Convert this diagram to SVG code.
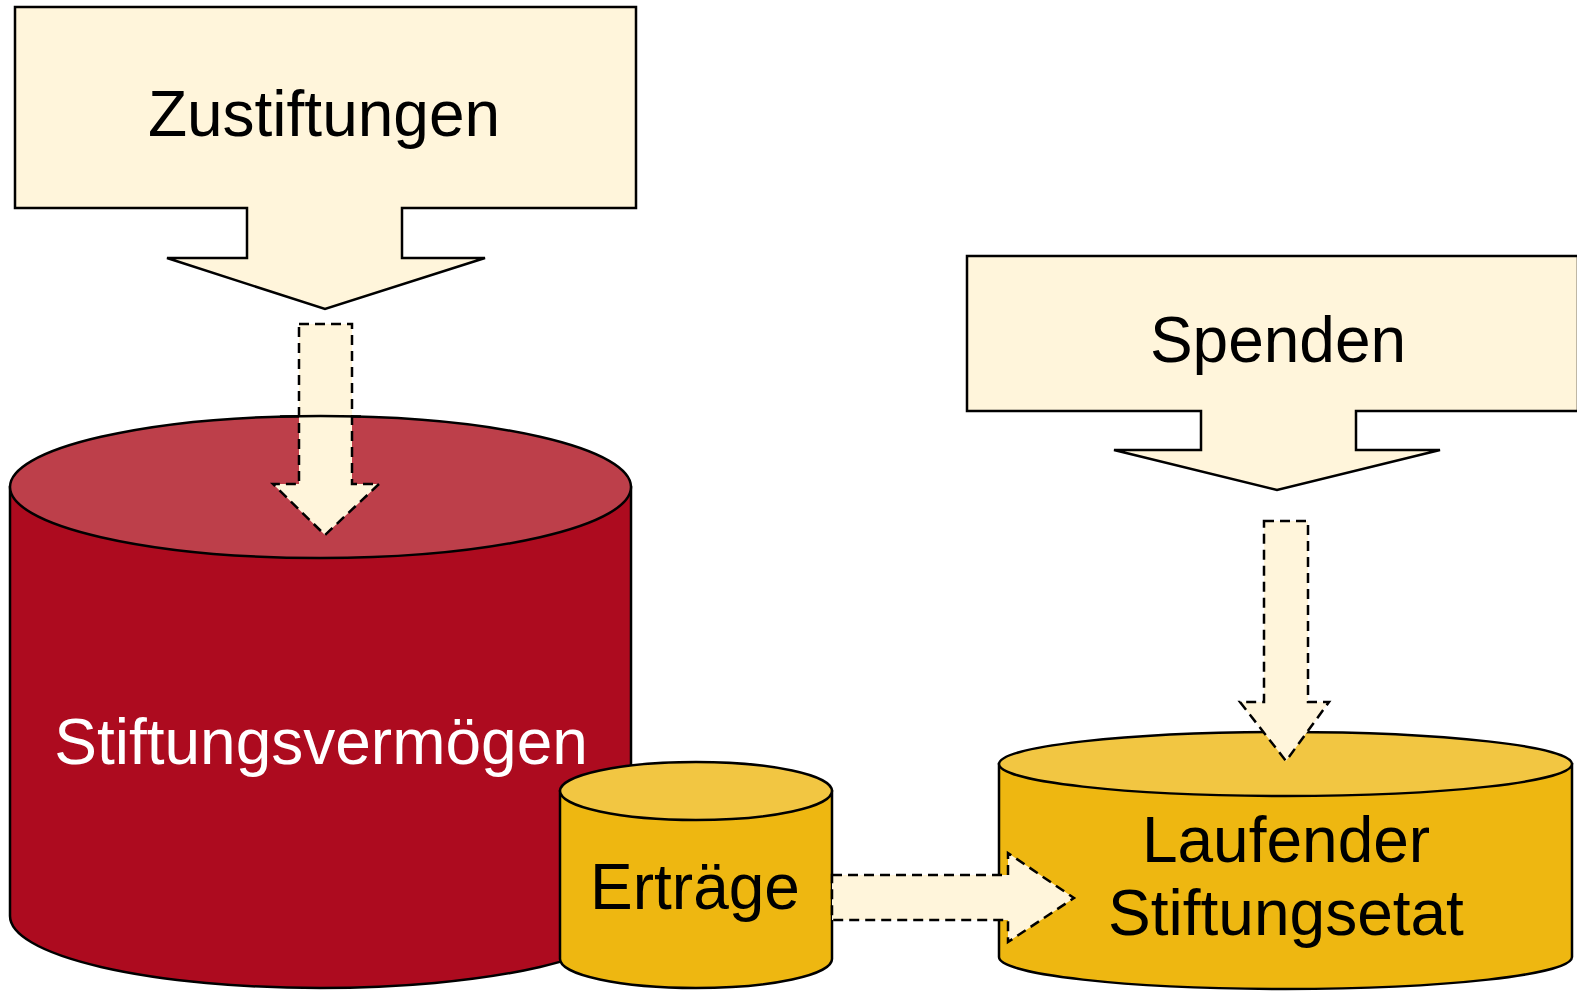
<svg xmlns="http://www.w3.org/2000/svg" width="1577" height="992" viewBox="0 0 1577 992">
<style>
.box{fill:#FFF5DB;stroke:#000;stroke-width:2.5;stroke-linejoin:miter}
.flow{fill:#FFF5DB;stroke:#000;stroke-width:2.5;stroke-dasharray:10,6}
.lbl{font-family:"Liberation Sans",Arial,sans-serif;font-size:64px;text-anchor:middle;fill:#000}
.white{fill:#fff}
.edge{stroke:#000;stroke-width:2.5}
.redBody{fill:#AD0B1F}
.redTop{fill:#BD3F4A}
.goldBody{fill:#EEB711}
.goldTop{fill:#F2C642}
.rim{fill:none;stroke:#000;stroke-width:2.5}
</style>
<rect width="1577" height="992" fill="#fff"/>
<g id="zustiftungen">
<path class="box" d="M15,7 H636 V208 H402 V258 H485 L325,309 L167,258 H247 V208 H15 Z"/>
<text class="lbl" x="324" y="136">Zustiftungen</text>
</g>
<g id="spenden">
<path class="box" d="M967,256 H1578 V411 H1356 V450 H1440 L1277,490 L1114,450 H1201 V411 H967 Z"/>
<text class="lbl" x="1278" y="362">Spenden</text>
</g>
<g id="stiftungsvermoegen">
<path class="redBody edge" d="M10,487 V916 A310.5,72 0 0 0 631,916 V487 Z"/>
<ellipse class="redTop edge" cx="320.5" cy="487" rx="310.5" ry="71"/>
<text class="lbl white" x="321" y="764">Stiftungsvermögen</text>
</g>
<g id="ertraege">
<path class="goldBody edge" d="M560,791 V959 A136,29 0 0 0 832,959 V791 Z"/>
<ellipse class="goldTop edge" cx="696" cy="791" rx="136" ry="29"/>
<text class="lbl" x="695" y="909">Erträge</text>
</g>
<g id="laufender-stiftungsetat">
<path class="goldBody edge" d="M999,764 V957 A286.5,32 0 0 0 1572,957 V764 Z"/>
<ellipse class="goldTop edge" cx="1285.5" cy="764" rx="286.5" ry="32"/>
<text class="lbl" x="1286" y="862">Laufender</text>
<text class="lbl" x="1286" y="935">Stiftungsetat</text>
</g>
<g id="connectors">
<path class="flow" d="M299,324 H352 V484 H379 L325,535 L273,484 H299 Z"/>
<path class="flow" d="M1264,521 H1308 V702 H1329 L1286,761 L1240,702 H1264 Z"/>
<path class="flow" d="M832,875 H1008 V853 L1074,898 L1008,942 V920 H832 Z"/>
</g>
<path id="stiftungsvermoegen-rim" class="rim" d="M280,416.6 A310.5,71 0 0 1 361,416.6"/>
</svg>
